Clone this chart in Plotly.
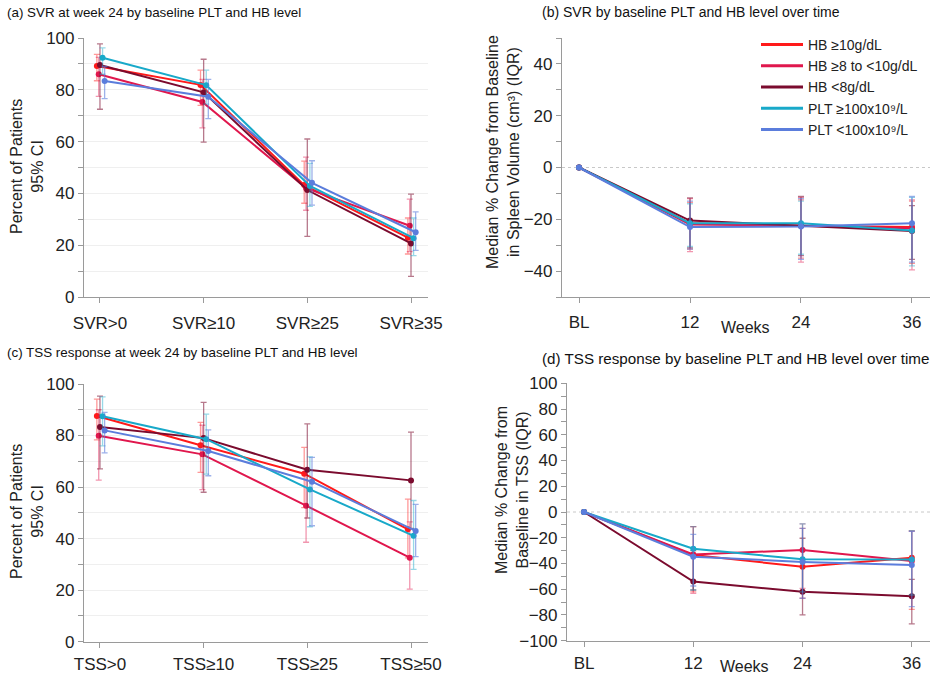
import plotly.graph_objects as go

W, H = 940, 686

groups = ["HB ≥10g/dL", "HB ≥8 to <10g/dL", "HB <8g/dL",
          "PLT ≥100x10⁹/L", "PLT <100x10⁹/L"]
colors = ["#ff1a1a", "#e0174d", "#7b0b2e", "#18a9c9", "#5b7ddc"]
err_colors = ["rgba(255,26,26,0.45)", "rgba(224,23,77,0.45)", "rgba(123,11,46,0.55)",
              "rgba(24,169,201,0.45)", "rgba(91,125,220,0.6)"]
dodge = [-0.03, -0.012, 0.0, 0.025, 0.045]

# (a) SVR at week 24
svr_cats = ["SVR>0", "SVR≥10", "SVR≥25", "SVR≥35"]
svr_pct = [[89.2, 81.9, 43.2, 22.9],
           [86.0, 75.3, 42.0, 27.5],
           [89.6, 79.0, 41.3, 20.7],
           [92.4, 81.8, 42.9, 22.7],
           [83.4, 77.3, 44.1, 25.0]]
svr_lo = [[83.5, 74.0, 36.2, 16.6],
          [77.5, 65.3, 33.5, 17.5],
          [72.5, 59.8, 23.4, 8.0],
          [86.0, 74.5, 35.0, 16.0],
          [76.6, 68.9, 35.5, 18.0]]
svr_hi = [[93.7, 87.6, 52.5, 30.5],
          [92.5, 84.0, 54.0, 37.8],
          [97.7, 91.8, 61.0, 39.7],
          [96.2, 87.6, 51.6, 30.5],
          [89.0, 84.0, 52.6, 32.9]]

# (c) TSS response at week 24
tss_cats = ["TSS>0", "TSS≥10", "TSS≥25", "TSS≥50"]
tss_pct = [[87.6, 76.2, 65.2, 43.6],
           [79.9, 72.7, 52.8, 32.6],
           [83.3, 79.0, 66.7, 62.6],
           [87.5, 78.6, 59.1, 41.1],
           [82.0, 74.0, 62.1, 43.0]]
tss_lo = [[78.3, 65.7, 52.0, 32.5],
          [62.7, 59.0, 38.6, 20.4],
          [67.1, 58.0, 48.0, 44.0],
          [76.0, 65.0, 44.6, 28.1],
          [73.3, 64.4, 45.0, 33.0]]
tss_hi = [[94.1, 85.1, 75.4, 55.3],
          [90.0, 84.0, 66.0, 46.5],
          [95.3, 92.9, 84.5, 81.3],
          [95.0, 88.3, 71.7, 54.8],
          [89.0, 82.2, 71.5, 53.3]]

# (b) spleen volume change over time
weeks = [0, 12, 24, 36]
week_labels = ["BL", "12", "24", "36"]
sv_med = [[0, -21.5, -22.5, -23.0],
          [0, -22.0, -22.5, -23.5],
          [0, -20.5, -22.5, -24.5],
          [0, -21.5, -21.5, -24.3],
          [0, -23.0, -22.8, -21.5]]
sv_q1 = [[None, -31.5, -35.0, -37.0],
         [None, -32.5, -36.5, -39.5],
         [None, -31.0, -34.0, -35.5],
         [None, -30.5, -33.5, -38.0],
         [None, -31.5, -35.5, -36.5]]
sv_q3 = [[None, -13.5, -12.5, -13.0],
         [None, -12.0, -11.5, -12.5],
         [None, -11.7, -11.2, -14.7],
         [None, -14.0, -13.0, -11.5],
         [None, -13.0, -12.0, -11.2]]

# (d) TSS change over time
ts_med = [[0, -33.5, -42.5, -35.5],
          [0, -33.0, -29.5, -38.0],
          [0, -54.0, -62.0, -65.5],
          [0, -28.5, -36.8, -37.0],
          [0, -34.7, -38.8, -41.2]]
ts_q1 = [[None, -62.0, -67.0, -75.6],
         [None, -63.2, -59.3, -64.5],
         [None, -60.6, -80.0, -87.0],
         [None, -60.6, -62.0, -64.5],
         [None, -57.5, -67.0, -73.5]]
ts_q3 = [[None, -11.4, -12.7, -14.5],
         [None, -11.4, -9.3, -15.0],
         [None, -30.0, -20.4, -52.3],
         [None, -11.4, -9.3, -14.5],
         [None, -17.4, -12.7, -15.0]]

fig = go.Figure()


def add_panel(xs_base, vals, lo, hi, xa, ya, offsets):
    for i in range(len(groups)):
        xs = [x + offsets[i] for x in xs_base]
        plus = [None if (h is None) else h - v for h, v in zip(hi[i], vals[i])]
        minus = [None if (l is None) else v - l for l, v in zip(lo[i], vals[i])]
        fig.add_trace(go.Scatter(
            x=xs, y=vals[i], mode="lines+markers", xaxis=xa, yaxis=ya,
            line=dict(color=colors[i], width=2),
            marker=dict(color=colors[i], size=6),
            error_y=dict(type="data", symmetric=False, array=plus, arrayminus=minus,
                         color=err_colors[i], thickness=1.3, width=3),
            showlegend=False, hoverinfo="skip"))


cat_idx = list(range(len(svr_cats)))
add_panel(cat_idx, svr_pct, svr_lo, svr_hi, "x", "y", dodge)
add_panel(weeks, sv_med, sv_q1, sv_q3, "x2", "y2", [0] * 5)
add_panel(cat_idx, tss_pct, tss_lo, tss_hi, "x3", "y3", dodge)
add_panel(weeks, ts_med, ts_q1, ts_q3, "x4", "y4", [0] * 5)

for i, g in enumerate(groups):
    fig.add_trace(go.Scatter(x=[None], y=[None], mode="lines", name=g,
                             line=dict(color=colors[i], width=3),
                             xaxis="x2", yaxis="y2", showlegend=True))


def px(v):
    return v / W


def py(v):
    return 1 - v / H


FONT = "Liberation Sans, Arial, sans-serif"
tickfont = dict(family=FONT, size=17, color="#222")
axcol = "#9a9a9a"

common_x = dict(showline=True, linecolor=axcol, linewidth=1.2, ticks="outside",
                ticklen=5, tickcolor=axcol, tickfont=tickfont, showgrid=False,
                zeroline=False, automargin=False)
common_y = dict(showline=True, linecolor=axcol, linewidth=1.2, ticks="outside",
                ticklen=5, tickcolor=axcol, tickfont=tickfont, zeroline=False,
                automargin=False)

fig.update_layout(
    width=W, height=H, margin=dict(l=0, r=0, t=0, b=0, autoexpand=False),
    paper_bgcolor="white", plot_bgcolor="white",
    font=dict(family=FONT, color="#222"),
    xaxis=dict(common_x, domain=[px(84), px(428)], range=[-0.154, 3.164],
               tickvals=cat_idx, ticktext=svr_cats, anchor="y", ticklabelstandoff=5),
    yaxis=dict(common_y, domain=[py(297), py(38)], range=[0, 100], dtick=20,
               showgrid=True, gridcolor="#efefef", gridwidth=1,
               minor=dict(dtick=10, ticks="outside", ticklen=5, tickcolor=axcol,
                          showgrid=True, gridcolor="#efefef"), anchor="x"),
    xaxis2=dict(common_x, domain=[px(562), px(930)], range=[-1.84, 37.95],
                tickvals=weeks, ticktext=week_labels, anchor="y2", ticklabelstandoff=4),
    yaxis2=dict(common_y, domain=[py(297), py(38)], range=[-50, 50], dtick=20,
                showgrid=False,
                minor=dict(dtick=10, ticks="outside", ticklen=5, tickcolor=axcol),
                anchor="x2"),
    xaxis3=dict(common_x, domain=[px(84), px(428)], range=[-0.154, 3.164],
                tickvals=cat_idx, ticktext=tss_cats, anchor="y3", ticklabelstandoff=2),
    yaxis3=dict(common_y, domain=[py(641.7), py(384)], range=[0, 100], dtick=20,
                showgrid=True, gridcolor="#efefef", gridwidth=1,
                minor=dict(dtick=10, ticks="outside", ticklen=5, tickcolor=axcol,
                           showgrid=True, gridcolor="#efefef"), anchor="x3"),
    xaxis4=dict(common_x, domain=[px(567), px(930)], range=[-1.87, 38.0],
                tickvals=weeks, ticktext=week_labels, anchor="y4", ticklabelstandoff=2),
    yaxis4=dict(common_y, domain=[py(640.7), py(383.3)], range=[-100, 100], dtick=20,
                showgrid=False,
                minor=dict(dtick=10, ticks="outside", ticklen=5, tickcolor=axcol),
                anchor="x4"),
    legend=dict(x=px(756), y=py(29), xanchor="left", yanchor="top",
                bgcolor="rgba(0,0,0,0)", tracegroupgap=0, itemwidth=42,
                font=dict(family=FONT, size=14, color="#222")),
)

for xr, yr in [("x2 domain", "y2"), ("x4 domain", "y4")]:
    fig.add_shape(type="line", xref=xr, yref=yr, x0=0, x1=1, y0=0, y1=0,
                  line=dict(color="#c8c8c8", width=1, dash="dot"), layer="below")

titles = [
    ("(a) SVR at week 24 by baseline PLT and HB level", 5, 12, 13.4),
    ("(b) SVR by baseline PLT and HB level over time", 540, 12, 14),
    ("(c) TSS response at week 24 by baseline PLT and HB level", 5, 352, 13.4),
    ("(d) TSS response by baseline PLT and HB level over time", 540, 358, 15.2),
]
for t, x, y, s in titles:
    fig.add_annotation(text=t, x=px(x), y=py(y), xref="paper", yref="paper",
                       xanchor="left", yanchor="middle", showarrow=False,
                       font=dict(family=FONT, size=s, color="#111"))

ytitle_font = dict(family=FONT, size=16, color="#222")
ytitles = [
    ("Percent of Patients<br>95% CI", 27, 167),
    ("Median % Change from Baseline<br>in Spleen Volume (cm³) (IQR)", 503, 152),
    ("Percent of Patients<br>95% CI", 27, 512),
    ("Median % Change from<br>Baseline in TSS (IQR)", 512, 490),
]
for t, x, y in ytitles:
    fig.add_annotation(text=t, x=px(x), y=py(y), xref="paper", yref="paper",
                       xanchor="center", yanchor="middle", textangle=-90,
                       showarrow=False, font=ytitle_font)

for x, y in [(745, 327), (744, 666)]:
    fig.add_annotation(text="Weeks", x=px(x), y=py(y), xref="paper", yref="paper",
                       xanchor="center", yanchor="middle", showarrow=False, font=ytitle_font)

fig.write_html("out.html", config={"displayModeBar": False},
               post_script="document.body.style.margin='0';document.body.style.overflow='hidden';")
